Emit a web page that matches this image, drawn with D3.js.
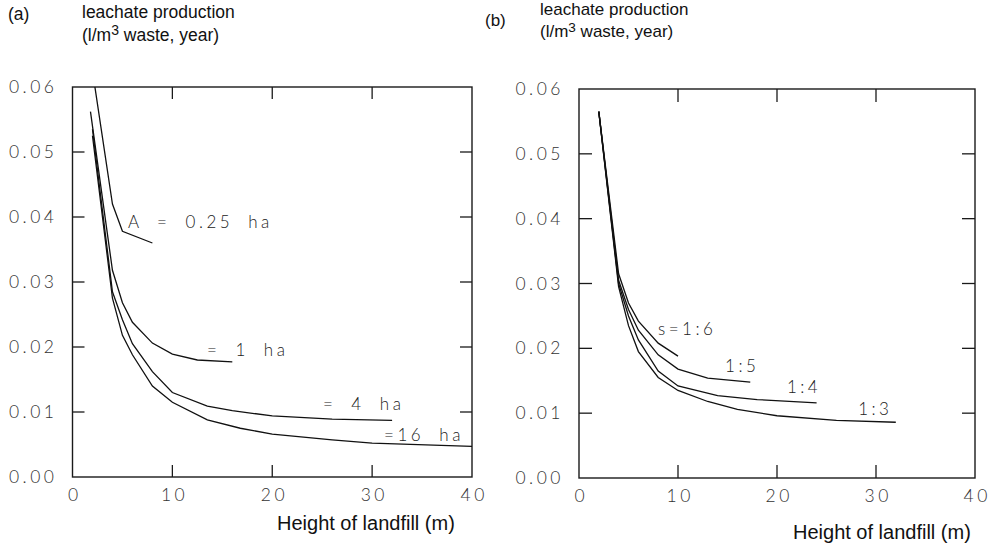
<!DOCTYPE html>
<html>
<head>
<meta charset="utf-8">
<script src="https://cdn.jsdelivr.net/npm/d3@7"></script>
<style>
  body { margin: 0; background: #fff; }
  svg { display: block; }
  .tick-lbl { font-family: Lato, "Open Sans", sans-serif; font-weight: 300; font-size: 17.5px; fill: #333; letter-spacing: 3.5px; }
  .ann { font-family: Lato, "Open Sans", sans-serif; font-weight: 300; font-size: 17px; fill: #222; letter-spacing: 3.5px; word-spacing: 7px; }
  .ttl { font-family: "Liberation Sans", Arial, sans-serif; fill: #111; }
</style>
</head>
<body>
<div id="chart"></div>
<script>
// x = height of landfill (m), y = leachate production (l/m3 waste, year)
var xTicks = [0, 10, 20, 30, 40];
var yTicks = [0, 0.01, 0.02, 0.03, 0.04, 0.05, 0.06];

// panel (a): landfill area A
var areaNames = ["A = 0.25 ha", "= 1 ha", "= 4 ha", "=16 ha"];
var areaQ025 = [[2, 0.0625], [4, 0.042], [5, 0.0378], [8, 0.036]];
var areaQ1   = [[1.8, 0.0562], [4, 0.0318], [5, 0.0268], [6, 0.0238], [8, 0.0206], [10, 0.0189], [12.5, 0.018], [16, 0.0177]];
var areaQ4   = [[2, 0.0535], [4, 0.0285], [5, 0.0242], [6, 0.0205], [8, 0.0162], [10, 0.013], [13.5, 0.0109], [16, 0.0102], [20, 0.0094], [26, 0.0089], [32, 0.0087]];
var areaQ16  = [[2, 0.0525], [4, 0.0275], [5, 0.0218], [6, 0.0188], [8, 0.014], [10, 0.0115], [13.5, 0.0088], [16.8, 0.0075], [20, 0.0066], [26, 0.0057], [30, 0.0052], [40, 0.0047]];
// label anchors (data units)
var areaLabelX = [5.55, 13.46, 25.07, 31.2];
var areaLabelY = [0.0383, 0.0186, 0.0103, 0.0055];

// panel (b): side slope s
var slopeNames = ["s=1:6", "1:5", "1:4", "1:3"];
var slope6 = [[2, 0.0565], [4, 0.0315], [5, 0.027], [6, 0.0242], [8, 0.0208], [10, 0.0188]];
var slope5 = [[2, 0.0565], [4, 0.0305], [5, 0.026], [6, 0.0228], [8, 0.019], [10, 0.0168], [13, 0.0154], [17.3, 0.0148]];
var slope4 = [[2, 0.0565], [4, 0.030], [5, 0.025], [6, 0.0213], [8, 0.0165], [10, 0.0142], [14, 0.0127], [18, 0.0121], [24, 0.0116]];
var slope3 = [[2, 0.0565], [4, 0.0295], [5, 0.0235], [6, 0.0195], [8, 0.0155], [10, 0.0135], [13, 0.0118], [16, 0.0106], [20, 0.0096], [26, 0.0089], [32, 0.0086]];
var slopeLabelX = [7.98, 14.75, 21.0, 28.2];
var slopeLabelY = [0.0221, 0.01635, 0.0131, 0.0097];

var W = 994, H = 547;
var svg = d3.select("#chart").append("svg")
  .attr("width", W).attr("height", H);

function panel(id, xr, yr, series, names, lx, ly, tickLen) {
  var x = d3.scaleLinear().domain([0, 40]).range(xr);
  var y = d3.scaleLinear().domain([0, 0.06]).range(yr);
  var g = svg.append("g");

  g.append("clipPath").attr("id", id)
    .append("rect")
      .attr("x", xr[0]).attr("y", yr[1])
      .attr("width", xr[1] - xr[0]).attr("height", yr[0] - yr[1]);

  // bottom / left axes, labels drawn by the axis
  var bottom = g.append("g")
    .attr("transform", "translate(0," + yr[0] + ")")
    .call(d3.axisBottom(x).tickValues(xTicks).tickSize(0).tickPadding(12).tickFormat(d3.format("d")));
  var left = g.append("g")
    .attr("transform", "translate(" + xr[0] + ",0)")
    .call(d3.axisLeft(y).tickValues(yTicks).tickSize(0).tickPadding(15).tickFormat(d3.format(".2f")));
  [bottom, left].forEach(function(a) {
    a.select(".domain").remove();
    a.selectAll("text").attr("class", "tick-lbl").attr("fill", null);
  });
  bottom.selectAll("text").attr("dx", "0.1em");

  // frame
  g.append("rect")
    .attr("x", xr[0]).attr("y", yr[1])
    .attr("width", xr[1] - xr[0]).attr("height", yr[0] - yr[1])
    .attr("fill", "none").attr("stroke", "#1a1a1a").attr("stroke-width", 1.4);

  // inner ticks on all four sides
  var inner = xTicks.slice(1, -1), innerY = yTicks.slice(1, -1);
  g.selectAll(".tb").data(inner).enter().append("line")
    .attr("x1", function(d) { return x(d); }).attr("x2", function(d) { return x(d); })
    .attr("y1", yr[0]).attr("y2", yr[0] - tickLen)
    .attr("stroke", "#1a1a1a").attr("stroke-width", 1.3);
  g.selectAll(".tt").data(inner).enter().append("line")
    .attr("x1", function(d) { return x(d); }).attr("x2", function(d) { return x(d); })
    .attr("y1", yr[1]).attr("y2", yr[1] + tickLen)
    .attr("stroke", "#1a1a1a").attr("stroke-width", 1.3);
  g.selectAll(".tl").data(innerY).enter().append("line")
    .attr("y1", function(d) { return y(d); }).attr("y2", function(d) { return y(d); })
    .attr("x1", xr[0]).attr("x2", xr[0] + tickLen)
    .attr("stroke", "#1a1a1a").attr("stroke-width", 1.3);
  g.selectAll(".tr").data(innerY).enter().append("line")
    .attr("y1", function(d) { return y(d); }).attr("y2", function(d) { return y(d); })
    .attr("x1", xr[1]).attr("x2", xr[1] - tickLen)
    .attr("stroke", "#1a1a1a").attr("stroke-width", 1.3);

  var line = d3.line()
    .x(function(d) { return x(d[0]); })
    .y(function(d) { return y(d[1]); });

  g.append("g").attr("clip-path", "url(#" + id + ")")
    .selectAll("path").data(series).enter().append("path")
      .attr("d", line)
      .attr("fill", "none")
      .attr("stroke", "#111")
      .attr("stroke-width", 1.3);

  g.selectAll(".ann").data(names).enter().append("text")
    .attr("class", "ann")
    .attr("x", function(d, i) { return x(lx[i]); })
    .attr("y", function(d, i) { return y(ly[i]); })
    .attr("xml:space", "preserve")
    .text(function(d) { return d; });
}

panel("clipA", [72.5, 472], [477, 87], [areaQ025, areaQ1, areaQ4, areaQ16], areaNames, areaLabelX, areaLabelY, 12);
panel("clipB", [579, 975], [478, 89], [slope6, slope5, slope4, slope3], slopeNames, slopeLabelX, slopeLabelY, 13);

// titles
function title(x, y, size) {
  var t = svg.append("g");
  t.append("text").attr("class", "ttl").attr("x", x).attr("y", y).attr("font-size", size).text("leachate production");
  var l2 = t.append("text").attr("class", "ttl").attr("x", x).attr("y", y + size * 1.3).attr("font-size", size);
  l2.append("tspan").text("(l/m");
  l2.append("tspan").attr("dy", -size * 0.32).attr("font-size", size * 0.8).text("3");
  l2.append("tspan").attr("dy", size * 0.32).text(" waste, year)");
}
svg.append("text").attr("class", "ttl").attr("x", 8).attr("y", 20).attr("font-size", 17.5).text("(a)");
title(82, 18, 17.5);
svg.append("text").attr("class", "ttl").attr("x", 485).attr("y", 26).attr("font-size", 17).text("(b)");
title(540, 15, 17);

svg.append("text").attr("class", "ttl").attr("x", 277).attr("y", 530).attr("font-size", 20).text("Height of landfill (m)");
svg.append("text").attr("class", "ttl").attr("x", 793).attr("y", 539).attr("font-size", 20).text("Height of landfill (m)");
</script>
</body>
</html>
